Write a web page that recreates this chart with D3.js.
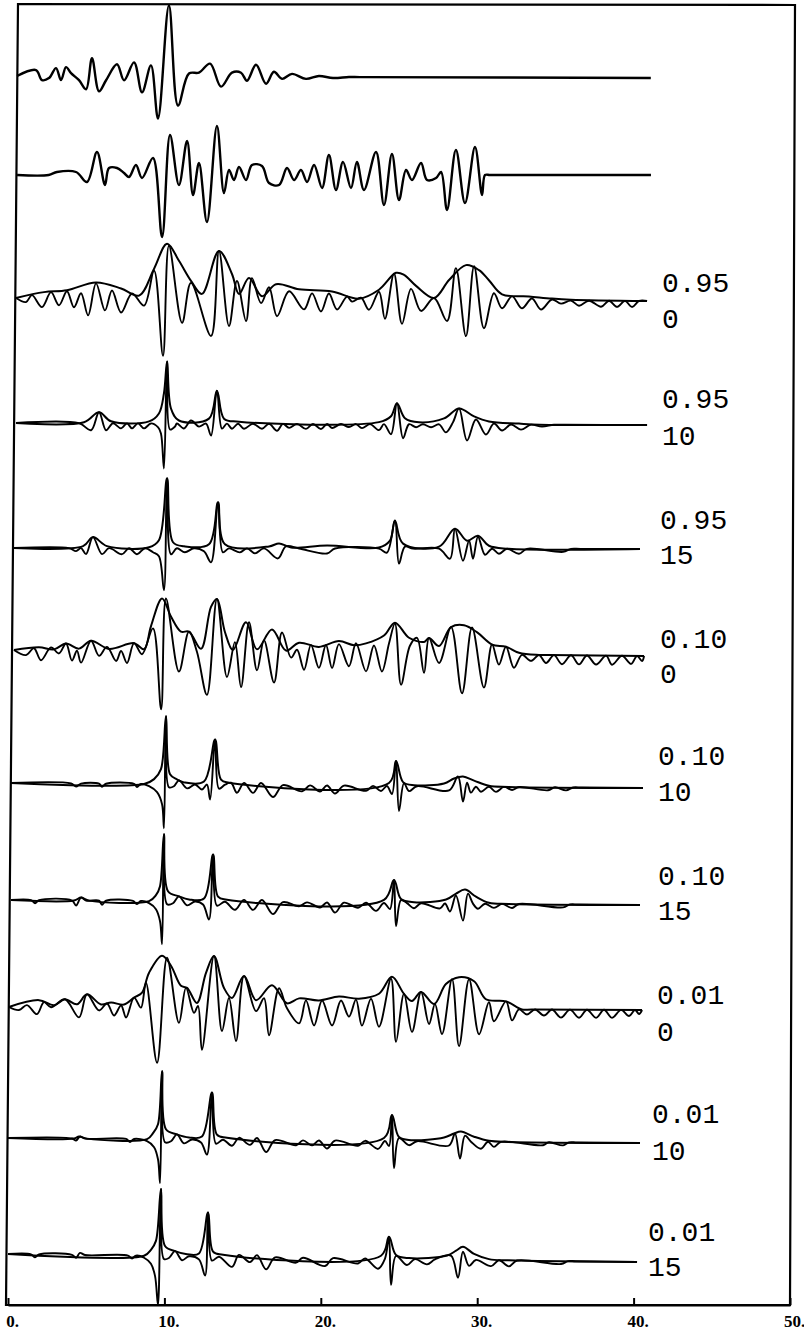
<!DOCTYPE html>
<html><head><meta charset="utf-8">
<script src="https://cdn.jsdelivr.net/npm/d3@7"></script>
<style>html,body{margin:0;padding:0;background:#fff;}svg{display:block;}</style>
</head><body>
<div id="chart"></div>
<script>
// ---------------- DATA (time, amplitude) ----------------
const xTicks = [0, 10, 20, 30, 40, 50];
const labelsTop = ["0.95","0.95","0.95","0.10","0.10","0.10","0.01","0.01","0.01"];
const labelsBottom = ["0","10","15","0","10","15","0","10","15"];

const wiggle1 = [[0.58,0],[1.79,6],[2.17,-4],[2.62,-2],[3.07,8],[3.39,-4],[3.71,9],[4.03,3],[4.54,-4],[4.99,-13],[5.37,18],[5.82,-15],[6.27,-4],[6.97,12],[7.42,-4],[8.06,14],[8.57,-16],[9.14,11],[9.59,-42],[10.29,71],[10.87,-29],[11.57,3],[12.21,4],[12.92,13],[13.62,-10],[14.32,4],[14.9,4],[15.28,-4],[15.86,12],[16.5,-7],[17.0,5],[17.52,-2],[18.16,3],[19.05,-2],[19.88,1],[20.78,-1],[21.8,0],[22.5,0],[41.1,0]];

const wiggle2 = [[0.58,0],[2.6,0],[3.13,3],[4.35,3],[5.05,-7],[5.69,23],[6.2,-10],[6.46,7],[6.97,7],[7.42,2],[7.74,-2],[8.18,10],[8.57,-3],[9.27,17],[9.85,-62],[10.36,40],[10.93,-10],[11.45,34],[11.83,-20],[12.21,12],[12.72,-47],[13.36,49],[13.81,-18],[14.13,5],[14.45,-5],[14.77,8],[15.22,-5],[15.6,10],[16.24,9],[16.69,-8],[17.33,-10],[17.84,7],[18.29,-5],[18.73,5],[19.12,-7],[19.57,10],[20.08,-13],[20.52,20],[20.97,-15],[21.42,13],[21.93,-13],[22.31,13],[22.76,-15],[23.53,23],[24.04,-30],[24.55,21],[25.0,-25],[25.45,5],[25.83,-5],[26.41,12],[26.79,-5],[27.37,-3],[27.69,3],[28.07,-35],[28.64,25],[29.22,-28],[29.86,28],[30.31,-20],[30.5,0],[30.8,0],[31.3,0],[41.11,0]];

const wiggle3 = [[0.51,0],[1.15,-4],[1.53,3],[2.17,-9],[2.75,6],[3.26,-7],[3.77,7],[4.22,-9],[4.67,5],[5.12,-17],[5.63,15],[6.2,-12],[6.65,8],[7.23,-14],[7.93,5],[8.7,-7],[9.34,28],[9.91,-57],[10.29,53],[11.13,-24],[11.7,16],[12.98,-37],[13.49,48],[14.13,-27],[14.64,18],[15.22,-22],[15.6,21],[16.18,-4],[16.69,12],[17.2,-17],[17.97,8],[18.93,-10],[19.44,6],[20.01,-12],[20.52,6],[21.04,-10],[21.68,3],[22.0,-2],[22.57,2],[23.08,-10],[23.72,8],[24.1,-19],[24.68,26],[25.19,-24],[25.77,11],[26.41,-11],[27.24,2],[28.07,-21],[28.64,32],[29.28,-36],[29.8,34],[30.43,-28],[31.07,7],[31.59,-8],[32.23,4],[32.86,-8],[33.5,2],[34.08,-9],[34.78,1],[35.36,-3],[35.99,0],[36.51,-5],[37.15,0],[37.92,-6],[38.43,0],[38.94,-6],[39.45,0],[39.9,-6],[40.35,0],[40.86,0]];
const envelope3 = [[0.51,0],[2.3,6],[3.77,8],[5.63,16],[7.23,10],[8.38,3],[9.34,30],[10.17,55],[10.93,38],[11.7,18],[12.4,5],[13.49,48],[14.32,25],[14.77,5],[15.41,21],[16.24,3],[17.14,15],[18.61,10],[20.72,8],[22.44,1],[23.72,10],[24.81,27],[25.32,25],[26.09,14],[27.24,2],[28.2,20],[29.28,35],[30.12,30],[30.75,20],[31.59,6],[33.31,4],[34.78,2],[36.0,1],[40.86,0]];

const wiggle4 = [[0.51,0],[4.54,0],[5.31,-7],[5.82,11],[6.27,-7],[6.71,0],[7.23,-5],[7.61,0],[7.93,-5],[8.31,0],[8.7,-5],[9.14,0],[9.6,-4],[9.78,-10],[9.97,-45],[10.17,62],[10.36,-6],[10.68,-3],[10.8,0],[11.25,-5],[11.7,3],[12.21,-3],[12.66,0],[12.98,-12],[13.36,33],[13.68,-5],[14.0,0],[14.32,-5],[14.71,0],[15.09,-5],[15.66,0],[16.24,-5],[16.69,0],[17.2,-7],[17.58,0],[17.97,-4],[18.48,0],[19.05,-5],[19.5,0],[20.01,-5],[20.4,0],[20.72,-4],[21.29,0],[21.8,-3],[22.25,0],[22.63,-4],[23.15,0],[23.72,-6],[24.04,0],[24.49,-10],[24.87,21],[25.26,-14],[25.64,0],[26.09,-3],[26.53,0],[27.05,-3],[27.56,0],[28.0,-8],[28.45,2],[28.84,16],[29.35,-16],[29.92,5],[30.56,-10],[31.07,1],[31.59,-6],[32.16,0],[32.8,-5],[33.44,0],[34.14,-2],[34.91,0],[35.6,0],[40.86,0]];
const envelope4 = [[0.51,0],[4.86,1],[5.82,11],[6.59,2],[9.02,2],[9.65,10],[9.97,30],[10.17,62],[10.42,15],[10.93,3],[12.85,5],[13.36,33],[13.81,5],[14.77,2],[23.72,2],[24.49,8],[24.87,21],[25.38,6],[26.28,2],[27.88,6],[28.84,16],[29.8,8],[30.75,3],[32.67,1],[34.0,0],[40.86,0]];

const wiggle5 = [[0.38,0],[3.9,0],[4.35,-3],[4.67,0],[4.99,-6],[5.43,11],[6.01,-6],[6.46,0],[7.29,-6],[7.74,0],[8.25,-6],[8.76,0],[9.27,-4],[9.65,-8],[9.97,-42],[10.17,70],[10.42,-6],[10.8,0],[11.31,-4],[11.89,0],[12.53,-3],[12.98,-14],[13.43,46],[13.74,-4],[14.13,0],[14.83,-4],[15.28,0],[15.79,-5],[16.37,0],[17.26,-10],[17.77,2],[18.61,0],[20.4,-5],[20.91,0],[23.72,0],[24.23,-4],[24.74,28],[25.0,-15],[25.38,2],[25.9,0],[27.56,0],[28.26,-10],[28.58,20],[29.09,-12],[29.48,8],[29.73,-10],[30.05,12],[30.5,-6],[30.95,0],[31.39,-5],[31.9,0],[32.67,-5],[33.18,0],[35.49,-3],[36.0,0],[36.6,0],[40.41,0]];
const envelope5 = [[0.38,0],[4.8,2],[5.43,11],[6.33,2],[9.02,1],[9.65,8],[10.17,70],[10.55,6],[11.25,2],[12.85,4],[13.43,46],[13.87,4],[16.69,2],[17.33,5],[18.1,1],[20.4,3],[23.72,1],[24.42,8],[24.74,28],[25.26,5],[27.56,2],[28.58,20],[29.35,8],[30.05,13],[30.75,3],[32.0,0],[40.41,0]];

const wiggle6 = [[0.38,0],[1.15,-5],[1.66,2],[2.11,-10],[2.75,3],[3.26,-3],[3.71,7],[4.09,-10],[4.41,0],[4.67,-12],[5.31,10],[5.82,-5],[6.33,4],[6.91,-10],[7.23,0],[7.61,-12],[8.06,8],[8.57,-3],[9.27,23],[9.79,-58],[10.1,53],[10.93,-20],[11.57,20],[12.08,0],[12.72,-43],[13.36,53],[14.0,-25],[14.51,10],[14.9,-35],[15.41,30],[15.92,-18],[16.37,12],[17.01,-30],[17.52,20],[18.1,-5],[18.48,3],[18.93,-17],[19.37,8],[19.88,-15],[20.33,8],[20.72,-15],[21.16,9],[21.8,-13],[22.25,10],[22.89,-18],[23.4,8],[23.91,-18],[24.36,10],[24.74,30],[25.13,-31],[25.7,8],[26.15,16],[26.6,-19],[26.92,16],[27.56,-9],[28.33,27],[29.03,-39],[29.67,27],[30.43,-33],[30.95,10],[31.39,-10],[31.84,8],[32.35,-13],[32.86,0],[33.44,-6],[33.95,0],[34.4,-8],[34.91,0],[35.42,-9],[36.0,0],[36.51,-9],[37.02,0],[37.6,-9],[38.24,0],[38.62,-9],[39.26,0],[39.84,-8],[40.22,0],[40.54,-5],[40.67,0]];
const envelope6 = [[0.38,0],[1.98,3],[2.94,1],[3.71,7],[4.54,2],[5.31,10],[6.46,2],[8.06,8],[8.7,2],[9.14,25],[9.85,53],[10.42,35],[11.06,20],[11.57,20],[12.34,3],[12.98,45],[13.36,53],[13.87,20],[14.38,2],[15.22,30],[15.92,3],[16.88,23],[17.77,2],[18.61,10],[19.88,6],[21.16,12],[22.12,8],[22.89,10],[24.04,18],[24.74,31],[25.64,16],[26.6,12],[26.92,16],[27.56,8],[28.33,27],[29.16,29],[30.0,22],[30.95,10],[31.84,8],[32.67,2],[33.95,0],[34.6,0],[40.67,0]];

const wiggle7 = [[0.19,0],[4.03,0],[4.35,-3],[4.67,0],[5.82,0],[6.01,-3],[6.27,0],[8.06,0],[8.25,-3],[8.5,0],[9.02,-2],[9.53,-8],[9.85,-20],[9.97,-44],[10.1,68],[10.29,-3],[10.61,-2],[10.93,4],[11.45,-4],[11.96,0],[12.4,-5],[12.72,0],[12.92,-15],[13.24,45],[13.49,-4],[13.87,0],[14.26,2],[14.64,-8],[15.09,2],[15.67,-8],[16.18,2],[16.94,-12],[17.58,0],[18.8,-6],[19.31,0],[19.95,-6],[20.4,0],[20.91,-8],[21.48,0],[22.89,-5],[23.34,0],[23.85,-5],[24.23,0],[24.55,-8],[24.81,25],[25.0,-25],[25.32,3],[25.64,-5],[26.15,0],[28.2,-4],[28.77,10],[29.09,-15],[29.35,4],[29.6,-6],[29.92,0],[30.24,-5],[30.75,0],[31.2,-5],[31.71,0],[32.23,-3],[32.67,0],[34.53,-3],[34.97,0],[35.68,-3],[36.13,0],[36.7,0],[40.6,0]];
const envelope7 = [[0.19,0],[8.7,0],[9.34,5],[9.78,15],[10.1,68],[10.36,10],[10.8,5],[11.25,2],[12.53,3],[13.24,45],[13.62,5],[14.13,2],[24.36,3],[24.81,25],[25.26,4],[25.96,1],[27.88,3],[28.52,8],[29.09,10],[29.8,6],[30.75,1],[32.0,0],[40.6,0]];

const wiggle8 = [[0.19,0],[1.47,0],[1.73,-3],[1.98,0],[4.09,0],[4.35,-5],[4.67,3],[4.99,0],[5.82,0],[6.01,-4],[6.27,0],[7.99,0],[8.25,-3],[8.5,0],[9.02,-2],[9.46,-8],[9.72,-20],[9.85,-43],[9.97,67],[10.17,-3],[10.55,-2],[10.93,5],[11.45,-4],[11.96,0],[12.47,-3],[12.85,-18],[13.11,47],[13.36,-4],[13.87,0],[14.51,-8],[15.09,2],[15.67,-8],[16.24,2],[16.94,-12],[17.58,0],[18.61,-4],[19.12,0],[19.95,-5],[20.4,0],[20.91,-10],[21.48,0],[22.38,-5],[22.89,0],[23.53,-8],[24.04,0],[24.42,-6],[24.68,23],[24.81,-23],[25.13,3],[25.51,0],[25.96,-5],[26.41,0],[27.62,-5],[27.94,0],[28.26,-8],[28.64,8],[29.09,-17],[29.41,10],[29.73,0],[30.05,-5],[30.5,0],[31.07,-4],[31.59,0],[32.23,-4],[32.67,0],[35.49,-3],[35.93,0],[36.5,0],[40.41,0]];
const envelope8 = [[0.19,0],[4.22,0],[4.67,3],[5.18,0],[9.02,0],[9.46,6],[9.72,15],[9.97,67],[10.23,10],[10.93,5],[11.57,2],[12.53,3],[13.11,47],[13.43,5],[14.0,2],[24.04,3],[24.68,23],[25.13,4],[25.96,1],[28.01,4],[28.65,10],[29.22,14],[29.92,7],[30.75,1],[32.0,0],[40.41,0]];

const wiggle9 = [[0.06,0],[0.7,-3],[1.21,2],[1.85,-7],[2.3,5],[2.75,0],[3.64,8],[4.54,-10],[5.05,13],[5.82,-3],[6.33,4],[6.78,-8],[7.23,2],[7.55,-10],[8.06,10],[8.5,0],[8.82,25],[9.53,-55],[10.17,50],[10.93,-15],[11.38,20],[11.89,-5],[12.15,2],[12.4,-42],[13.17,52],[13.68,-23],[14.13,10],[14.58,-33],[15.09,32],[15.86,-3],[16.37,10],[16.69,-27],[17.33,20],[17.84,0],[18.61,-15],[19.05,8],[19.57,-17],[20.08,8],[20.72,-17],[21.29,8],[21.8,-8],[22.25,9],[22.63,-17],[23.21,10],[23.72,-18],[24.49,30],[24.81,-33],[25.32,15],[25.83,-23],[26.41,17],[26.92,-15],[27.3,5],[27.75,-25],[28.39,30],[28.84,-37],[29.48,30],[30.12,-25],[30.75,7],[31.07,-12],[31.84,8],[32.23,-11],[32.67,0],[33.18,-5],[33.7,0],[34.27,-6],[34.78,0],[35.36,-8],[35.93,0],[36.51,-8],[37.02,0],[37.6,-8],[38.11,0],[38.62,-8],[39.2,0],[39.71,-6],[40.09,0],[40.35,-4],[40.54,0]];
const envelope9 = [[0.06,0],[1.98,7],[2.94,2],[3.64,8],[4.41,3],[5.05,13],[5.95,3],[6.59,5],[7.42,3],[8.06,10],[8.57,15],[9.02,35],[9.85,52],[10.42,42],[11.06,22],[11.45,20],[12.08,5],[12.66,35],[13.17,52],[13.81,20],[14.32,10],[15.09,32],[15.86,8],[16.88,23],[17.84,5],[18.61,10],[19.88,8],[21.16,12],[22.44,10],[23.72,15],[24.55,32],[25.32,15],[25.83,8],[26.41,17],[27.24,5],[28.0,25],[28.84,32],[29.8,28],[30.56,10],[31.84,8],[32.86,0],[33.5,0],[40.54,0]];

const wiggle10 = [[0,0],[4.09,0],[4.35,-2],[4.6,2],[4.92,0],[7.55,0],[7.8,-3],[8.06,0],[8.89,-2],[9.34,-8],[9.59,-20],[9.72,-44],[9.85,68],[10.04,-3],[10.42,-2],[10.8,5],[11.25,-4],[11.77,0],[12.34,-3],[12.72,-15],[13.04,47],[13.3,-4],[13.75,0],[14.32,-6],[14.77,2],[15.47,-5],[15.92,2],[16.5,-12],[17.08,0],[18.42,-5],[18.86,0],[19.44,-5],[19.88,0],[20.4,-8],[20.91,0],[22.38,-5],[22.83,0],[23.66,-8],[24.1,0],[24.36,-5],[24.55,26],[24.68,-27],[25.0,3],[25.64,-4],[26.15,0],[28.2,-4],[28.58,8],[28.9,-17],[29.22,6],[29.6,0],[30.24,-7],[30.69,0],[31.07,-5],[31.52,0],[34.21,-3],[34.59,0],[35.49,-3],[35.87,0],[36.4,0],[40.41,0]];
const envelope10 = [[0,0],[4.22,0],[4.54,2],[5.05,0],[8.89,0],[9.27,6],[9.59,15],[9.85,68],[10.1,10],[10.8,5],[11.57,2],[12.4,3],[13.04,47],[13.36,5],[14.0,2],[24.04,3],[24.55,26],[25.0,4],[25.77,1],[27.88,4],[28.52,8],[28.96,10],[29.8,5],[30.75,1],[32.0,0],[40.41,0]];

const wiggle11 = [[0,0],[1.47,0],[1.73,-3],[1.98,0],[4.09,0],[4.35,-3],[4.6,2],[4.92,0],[7.67,0],[7.93,-3],[8.18,0],[8.7,-2],[9.14,-8],[9.4,-20],[9.59,-49],[9.78,67],[9.97,-3],[10.29,-2],[10.68,5],[11.13,-4],[11.57,0],[12.21,-3],[12.6,-19],[12.79,44],[13.04,-4],[13.49,0],[14.32,-10],[14.77,2],[15.47,-5],[15.92,2],[16.5,-12],[17.08,0],[18.42,-5],[18.86,0],[20.27,-8],[20.78,0],[22.38,-5],[22.83,0],[23.66,-10],[24.1,0],[24.36,22],[24.49,-26],[24.81,3],[25.51,-6],[26.02,0],[26.79,-5],[27.3,0],[28.32,4],[28.77,-18],[29.09,8],[29.48,-6],[29.92,0],[30.88,-6],[31.39,0],[32.03,-6],[32.55,0],[35.36,-3],[35.81,0],[36.3,0],[40.22,0]];
const envelope11 = [[0,0],[8.7,0],[9.14,6],[9.46,15],[9.78,67],[10.04,10],[10.68,5],[11.45,2],[12.21,3],[12.79,44],[13.11,5],[13.75,2],[23.85,3],[24.36,22],[24.81,4],[25.64,1],[28.07,4],[28.65,9],[29.09,13],[29.8,6],[30.75,1],[32.0,0],[40.22,0]];

// ---------------- LAYOUT ----------------
const W = 804, H = 1337;
const traceLayout = [
  {w: wiggle1,  e: null,       yL: 76,   yR: 78},
  {w: wiggle2,  e: null,       yL: 175,  yR: 175},
  {w: wiggle3,  e: envelope3,  yL: 298,  yR: 301},
  {w: wiggle4,  e: envelope4,  yL: 423,  yR: 425},
  {w: wiggle5,  e: envelope5,  yL: 548,  yR: 549},
  {w: wiggle6,  e: envelope6,  yL: 650,  yR: 656},
  {w: wiggle7,  e: envelope7,  yL: 783,  yR: 788},
  {w: wiggle8,  e: envelope8,  yL: 900,  yR: 905},
  {w: wiggle9,  e: envelope9,  yL: 1007, yR: 1010},
  {w: wiggle10, e: envelope10, yL: 1138, yR: 1143},
  {w: wiggle11, e: envelope11, yL: 1254, yR: 1262}
];
const labelPos = [
  {x: 662, y1: 284,  y2: 320},
  {x: 662, y1: 400,  y2: 437},
  {x: 660, y1: 521,  y2: 556},
  {x: 660, y1: 640,  y2: 675},
  {x: 658, y1: 757,  y2: 793},
  {x: 658, y1: 877,  y2: 912},
  {x: 657, y1: 996,  y2: 1033},
  {x: 652, y1: 1115, y2: 1152},
  {x: 648, y1: 1233, y2: 1268}
];
const axisY = 1305;
const labelFont = "Liberation Mono, DejaVu Sans Mono, monospace";

const svg = d3.select("#chart").append("svg")
  .attr("width", W).attr("height", H)
  .style("background", "#fff");

const x = d3.scaleLinear().domain([0, 50]).range([8, 790]);
const amp = d3.scaleLinear().domain([-100, 100]).range([100, -100]);

// frame (slightly skewed like the scanned plot)
svg.append("path")
  .attr("d", `M18,4 L795,5 L790,${axisY} L6,${axisY} Z`)
  .attr("fill", "none").attr("stroke", "#000").attr("stroke-width", 2.2);

// traces
traceLayout.forEach(tr => {
  const t0 = tr.w[0][0], t1 = tr.w[tr.w.length - 1][0];
  const base = t => tr.yL + (tr.yR - tr.yL) * (t - t0) / (t1 - t0);
  const line = d3.line()
    .x(d => x(d[0]))
    .y(d => base(d[0]) + amp(d[1]))
    .curve(d3.curveCatmullRom.alpha(0.5));
  if (tr.e) {
    svg.append("path").datum(tr.e)
      .attr("d", line)
      .attr("fill", "none").attr("stroke", "#000")
      .attr("stroke-width", 2).attr("stroke-linejoin", "round");
  }
  svg.append("path").datum(tr.w)
    .attr("d", line)
    .attr("fill", "none").attr("stroke", "#000")
    .attr("stroke-width", tr.e ? 1.9 : 2.4).attr("stroke-linejoin", "round");
});

// right-hand labels
labelsTop.forEach((lab, i) => {
  const p = labelPos[i];
  svg.append("text").attr("x", p.x).attr("y", p.y1)
    .attr("dominant-baseline", "central")
    .attr("font-family", labelFont)
    .attr("font-size", 28).attr("fill", "#000")
    .text(lab);
  svg.append("text").attr("x", p.x).attr("y", p.y2)
    .attr("dominant-baseline", "central")
    .attr("font-family", labelFont)
    .attr("font-size", 28).attr("fill", "#000")
    .text(labelsBottom[i]);
});

// x axis
const axis = d3.axisBottom(x).tickValues(xTicks).tickFormat(d => d + ".")
  .tickSizeInner(-7).tickSizeOuter(0).tickPadding(10);
const gAx = svg.append("g").attr("transform", `translate(0,${axisY})`).call(axis);
gAx.select(".domain").attr("stroke", "#000").attr("stroke-width", 2);
gAx.selectAll(".tick line").attr("stroke", "#000").attr("stroke-width", 2);
gAx.selectAll(".tick text")
  .attr("font-family", "Liberation Serif, DejaVu Serif, serif")
  .attr("font-weight", "bold").attr("font-size", 17)
  .attr("fill", "#000").attr("dx", 4);
</script>
</body></html>
